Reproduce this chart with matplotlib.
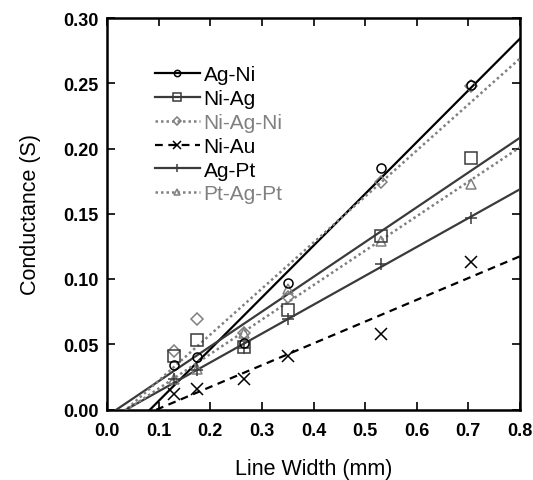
import numpy as np
import matplotlib
matplotlib.use("Agg")
import matplotlib.pyplot as plt
from matplotlib.ticker import FormatStrFormatter

plt.rcParams['font.family'] = ['Liberation Sans', 'DejaVu Sans']

# Data
line_width = [0.13, 0.175, 0.265, 0.35, 0.53, 0.705]
ag_ni = [0.034, 0.040, 0.051, 0.097, 0.185, 0.249]
ni_ag = [0.041, 0.053, 0.048, 0.0765, 0.133, 0.193]
ni_ag_ni = [0.045, 0.069, 0.059, 0.086, 0.174, 0.248]
ni_au = [0.012, 0.016, 0.023, 0.041, 0.058, 0.113]
ag_pt = [0.023, 0.030, 0.047, 0.069, 0.1115, 0.147]
pt_ag_pt = [0.023, 0.031, 0.059, 0.092, 0.129, 0.173]

series_names = ["Ag-Ni", "Ni-Ag", "Ni-Ag-Ni", "Ni-Au", "Ag-Pt", "Pt-Ag-Pt"]
series_values = [ag_ni, ni_ag, ni_ag_ni, ni_au, ag_pt, pt_ag_pt]

x_ticks = [0.0, 0.1, 0.2, 0.3, 0.4, 0.5, 0.6, 0.7, 0.8]
y_ticks = [0.00, 0.05, 0.10, 0.15, 0.20, 0.25, 0.30]

styles = [
    dict(color="#000000", ls="-", marker="o", ms=6.5, lw=1.6, text="#000000", z=10),
    dict(color="#3a3a3a", ls="-", marker="s", ms=8, lw=1.6, text="#000000", z=6),
    dict(color="#808080", ls=(0, (1, 1.2)), marker="D", ms=6, lw=1.8, text="#808080", z=5),
    dict(color="#000000", ls=(0, (3.5, 2.5)), marker="x", ms=8, lw=1.6, text="#000000", z=6),
    dict(color="#3a3a3a", ls="-", marker="+", ms=9, lw=1.6, text="#000000", z=6),
    dict(color="#808080", ls=(0, (1, 1.2)), marker="^", ms=7, lw=1.8, text="#808080", z=5),
]

fig = plt.figure(figsize=(5.33, 4.81), dpi=100)
ax = fig.add_axes([107/533, 1-410.5/481, (520-107)/533, (410.5-19)/481])

xs = np.array(line_width)
xfit = np.array([0.0, 0.8])
handles = []
for name, vals, st in zip(series_names, series_values, styles):
    ys = np.array(vals)
    k, b = np.polyfit(xs, ys, 1)
    ax.plot(xfit, k * xfit + b, color=st["color"], ls=st["ls"], lw=st["lw"], zorder=3)
    ax.plot(xs, ys, ls='none', marker=st["marker"], ms=st["ms"], mfc='none',
            mec=st["color"], mew=1.1, zorder=st["z"])
    h, = ax.plot([], [], color=st["color"], ls=st["ls"], lw=st["lw"],
                 marker=st["marker"], ms=st["ms"] * 0.7, mfc='none',
                 mec=st["color"], mew=1.1)
    handles.append(h)

leg = ax.legend(handles, series_names, loc='upper left', frameon=False,
                bbox_to_anchor=(0.095, 0.9), fontsize=15, handlelength=2.2,
                handletextpad=0.15, labelspacing=0.23, borderaxespad=0)
for t, st in zip(leg.get_texts(), styles):
    t.set_color(st["text"])

ax.set_xlim(0, 0.8)
ax.set_ylim(0, 0.30)
ax.set_xticks(x_ticks)
ax.set_yticks(y_ticks)
ax.yaxis.set_major_formatter(FormatStrFormatter('%.2f'))
ax.xaxis.set_major_formatter(FormatStrFormatter('%.1f'))
ax.tick_params(direction='in', top=True, right=True, length=6, width=1.2,
               labelsize=13)
ax.tick_params(axis='x', pad=9)
ax.tick_params(axis='y', pad=6)
for lab in ax.get_xticklabels() + ax.get_yticklabels():
    lab.set_fontweight('bold')
for sp in ax.spines.values():
    sp.set_linewidth(1.8)

ax.set_xlabel("Line Width (mm)", fontsize=15.5, labelpad=14)
ax.set_ylabel("Conductance (S)", fontsize=15.5, labelpad=16)

fig.savefig("out.png", dpi=100)
